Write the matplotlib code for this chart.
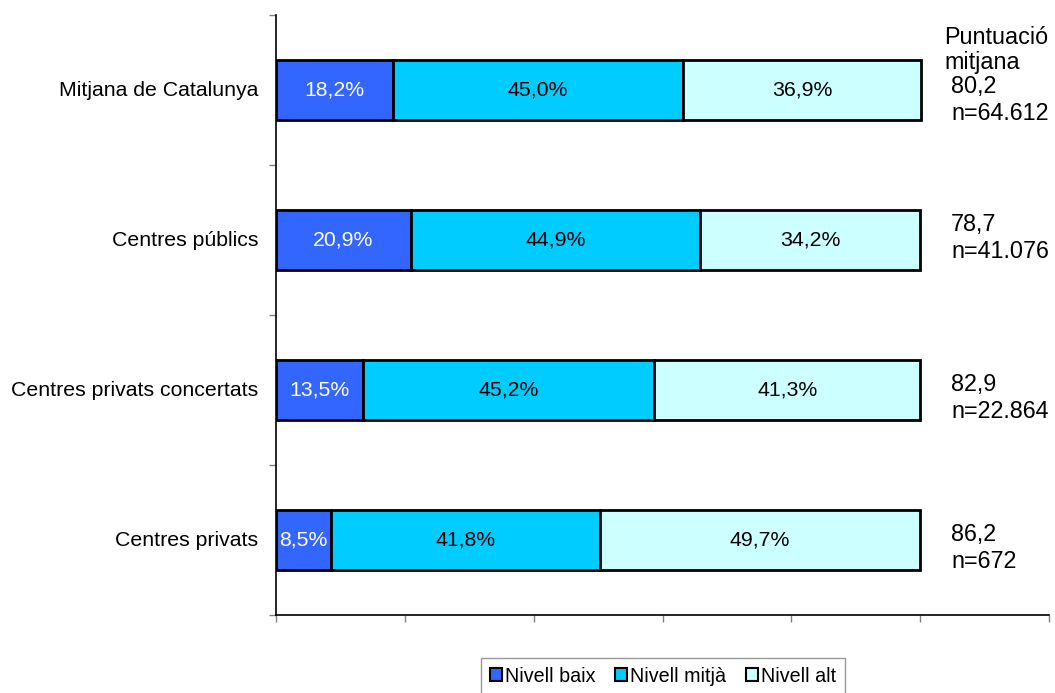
import matplotlib
matplotlib.use("Agg")
import matplotlib.pyplot as plt
from matplotlib.patches import Patch
from matplotlib.transforms import offset_copy
import numpy as np

plt.rcParams['font.family'] = ['Liberation Sans', 'DejaVu Sans']

categories = ["Mitjana de Catalunya", "Centres públics", "Centres privats concertats", "Centres privats"]
baix = [18.2, 20.9, 13.5, 8.5]
mitja = [45.0, 44.9, 45.2, 41.8]
alt = [36.9, 34.2, 41.3, 49.7]
puntuacio = ["80,2", "78,7", "82,9", "86,2"]
n_values = ["n=64.612", "n=41.076", "n=22.864", "n=672"]
series_names = ["Nivell baix", "Nivell mitjà", "Nivell alt"]
colors = ["#3366FF", "#00CCFF", "#CCFFFF"]
label_colors = ["white", "black", "black"]

# layout (pixel offsets of right-hand annotations relative to bar centres)
right_offsets_px = [-3, -15, -5, -5]
line_gap_px = 27

W, H = 1055, 693
fig = plt.figure(figsize=(W/100, H/100), dpi=100)
ax = fig.add_axes([276/W, 1-615/H, (1049-276)/W, 600/H])

ypos = np.arange(len(categories))[::-1]
left = np.zeros(len(categories))
for vals, col, lc in zip([baix, mitja, alt], colors, label_colors):
    vals = np.array(vals)
    ax.barh(ypos, vals, left=left, height=0.4, color=col, edgecolor='black', linewidth=2)
    for y, l, v in zip(ypos, left, vals):
        ax.text(l + v/2, y, f"{v:.1f}%".replace('.', ','), ha='center', va='center',
                fontsize=15.3, color=lc)
    left = left + vals

ax.set_xlim(0, 120)
ax.set_ylim(-0.5, len(categories) - 0.5)
ax.set_xticks(np.arange(0, 121, 20))
ax.set_xticklabels([])
ax.set_yticks(np.arange(-0.5, len(categories), 1.0))
ax.set_yticklabels([])
ax.tick_params(axis='both', direction='out', length=5, color='#808080', width=1)
ytr = offset_copy(ax.get_yaxis_transform(), fig=fig, x=-18, y=0, units='dots')
for y, c in zip(ypos, categories):
    ax.text(0, y, c, transform=ytr, ha='right', va='center', fontsize=15.3)
for s in ['top', 'right']:
    ax.spines[s].set_visible(False)
for s in ['left', 'bottom']:
    ax.spines[s].set_linewidth(1.2)

# right annotations
fig.text(944/W, 1-38/H, "Puntuació", ha='left', va='center', fontsize=16.8)
fig.text(944/W, 1-63/H, "mitjana", ha='left', va='center', fontsize=16.8)
for y, p, nv, off in zip(ypos, puntuacio, n_values, right_offsets_px):
    t1 = offset_copy(ax.transData, fig=fig, x=0, y=-off, units='dots')
    t2 = offset_copy(ax.transData, fig=fig, x=0, y=-(off + line_gap_px), units='dots')
    ax.text(104.8, y, p, transform=t1, ha='left', va='center', fontsize=16.8)
    ax.text(104.8, y, nv, transform=t2, ha='left', va='center', fontsize=16.8)

handles = [Patch(facecolor=c, edgecolor='black', linewidth=1.5) for c in colors]
leg = fig.legend(handles, series_names, loc='center', bbox_to_anchor=(663/W, 1-676/H),
                 ncol=3, frameon=True, fancybox=False, edgecolor='#808080', fontsize=14.2,
                 handlelength=0.6, handleheight=0.6, handletextpad=0.15, columnspacing=1.0,
                 borderpad=0.45, borderaxespad=0)
leg.get_frame().set_linewidth(1)

fig.savefig("out.png", dpi=100)
